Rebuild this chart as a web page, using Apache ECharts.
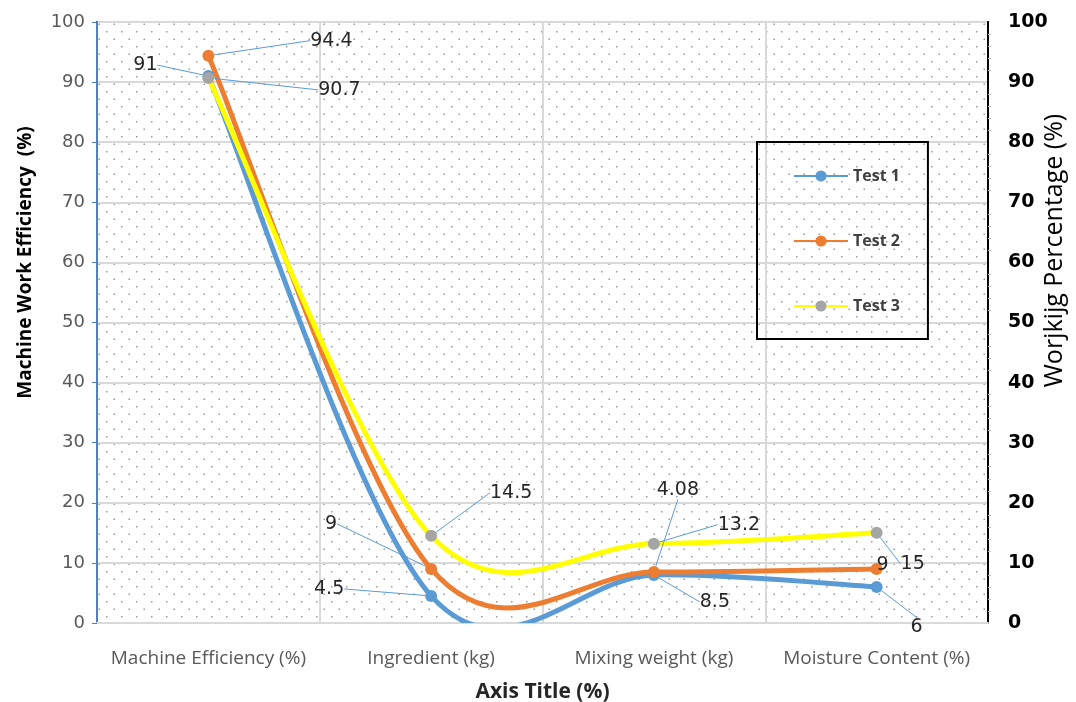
<!DOCTYPE html>
<html>
<head>
<meta charset="utf-8">
<script src="https://cdn.jsdelivr.net/npm/echarts@6/dist/echarts.min.js"></script>
<style>
  html, body { margin: 0; padding: 0; background: #fff; }
  #chart { width: 1076px; height: 702px; }
</style>
</head>
<body>
<div id="chart"></div>
<script>
// data
var categories = ['Machine Efficiency (%)', 'Ingredient (kg)', 'Mixing weight (kg)', 'Moisture Content (%)'];
var test1 = [91, 4.5, 8, 6];
var test2 = [94.4, 9, 8.5, 9];
var test3 = [90.7, 14.5, 13.2, 15];
// the labels as printed on the chart (they do not all match the points)
var test1Labels = ['91', '4.5', '8.5', '6'];
var test2Labels = ['94.4', '9', '4.08', '9'];
var test3Labels = ['90.7', '14.5', '13.2', '15'];
var yTicks = [0, 10, 20, 30, 40, 50, 60, 70, 80, 90, 100];

// where each label sits relative to its point (px)
var labelShift = [
    [[-63, -11], [-102, -7], [61, 27], [40, 40]],
    [[123, -15], [-100, -45], [24, -82], [6, -4]],
    [[131, 12], [80, -43], [85, -19], [36, 31]]
];

// dotted plot background
var dots = document.createElement('canvas');
dots.width = 15;
dots.height = 15;
var dctx = dots.getContext('2d');
dctx.fillStyle = '#9a9a9a';
dctx.fillRect(1, 1, 1.5, 1.5);
dctx.fillRect(8.5, 8.5, 1.5, 1.5);

var myChart = echarts.init(document.getElementById('chart'));

// points + labels (the line itself is drawn by the curve series below)
function makeSeries(name, values, texts, lineColor, dotColor) {
    return {
        name: name,
        type: 'line',
        data: values,
        z: 3,
        symbol: 'circle',
        symbolSize: 12,
        lineStyle: { color: lineColor, width: 5, opacity: 0 },
        itemStyle: { color: dotColor, borderWidth: 0 },
        label: {
            show: true,
            position: 'inside',
            color: '#262626',
            fontFamily: 'DejaVu Sans',
            fontSize: 19,
            formatter: function (p) { return texts[p.dataIndex]; }
        },
        labelLine: {
            show: true,
            lineStyle: { color: '#5b9bd5', width: 1 }
        },
        emphasis: { disabled: true }
    };
}

// excel-like smoothed line (catmull-rom through the points)
function curveSeries(name, values, color) {
    return {
        name: name,
        type: 'custom',
        data: values.map(function (v, i) { return [i, v]; }),
        encode: { x: 0, y: 1 },
        clip: true,
        silent: true,
        z: 1,
        renderItem: function (params, api) {
            if (params.dataIndex !== 0) return null;
            var pts = values.map(function (v, i) { return api.coord([i, v]); });
            var n = pts.length;
            var kids = [];
            for (var i = 0; i < n - 1; i++) {
                var p0 = pts[Math.max(i - 1, 0)], p1 = pts[i], p2 = pts[i + 1], p3 = pts[Math.min(i + 2, n - 1)];
                kids.push({
                    type: 'bezierCurve',
                    shape: {
                        x1: p1[0], y1: p1[1],
                        cpx1: p1[0] + (p2[0] - p0[0]) / 6, cpy1: p1[1] + (p2[1] - p0[1]) / 6,
                        cpx2: p2[0] - (p3[0] - p1[0]) / 6, cpy2: p2[1] - (p3[1] - p1[1]) / 6,
                        x2: p2[0], y2: p2[1]
                    },
                    style: { fill: null, stroke: color, lineWidth: 5, lineCap: 'round' }
                });
            }
            return { type: 'group', children: kids };
        }
    };
}

var option = {
    animation: false,
    grid: {
        left: 97, right: 88, top: 22, bottom: 79,
        outerBoundsMode: 'none',
        containLabel: false,
        show: true,
        backgroundColor: { image: dots, repeat: 'repeat' },
        borderColor: '#000',
        borderWidth: 2
    },
    legend: {
        orient: 'vertical',
        left: 757,
        top: 142,
        padding: [26, 28, 25, 36],
        itemGap: 49,
        itemWidth: 54,
        itemHeight: 14,
        borderColor: '#000',
        borderWidth: 2,
        lineStyle: { opacity: 1 },
        textStyle: { fontFamily: 'Open Sans', fontWeight: 'bold', fontSize: 16, color: '#404040' },
        data: ['Test 1', 'Test 2', 'Test 3']
    },
    xAxis: {
        type: 'category',
        data: categories,
        boundaryGap: true,
        axisLine: { lineStyle: { color: '#d9d9d9', width: 2 } },
        axisTick: { show: false },
        axisLabel: { interval: 0, color: '#595959', fontFamily: 'Open Sans', fontSize: 19, margin: 26 },
        splitLine: { show: true, interval: 0, lineStyle: { color: '#d9d9d9', width: 2 } },
        name: 'Axis Title (%)',
        nameLocation: 'middle',
        nameGap: 59,
        nameTextStyle: { fontFamily: 'Open Sans', fontWeight: 'bold', fontSize: 21, color: '#262626' }
    },
    yAxis: [
        {
            type: 'value',
            min: yTicks[0],
            max: yTicks[yTicks.length - 1],
            interval: 10,
            axisLine: { show: true, lineStyle: { color: '#4f81bd', width: 2 } },
            axisTick: { show: true, length: 5, lineStyle: { color: '#4f81bd' } },
            axisLabel: { color: '#595959', fontFamily: 'DejaVu Sans', fontSize: 18, margin: 12 },
            splitLine: { lineStyle: { color: '#d9d9d9', width: 2 } },
            name: 'Machine Work Efficiency  (%)',
            nameLocation: 'middle',
            nameGap: 62,
            nameTextStyle: {
                fontFamily: 'Open Sans', fontWeight: 'bold', fontSize: 19, color: '#000',
                padding: [0, 0, 0, 120]
            }
        },
        {
            type: 'value',
            position: 'right',
            min: yTicks[0],
            max: yTicks[yTicks.length - 1],
            interval: 10,
            axisLine: { show: true, lineStyle: { color: '#000', width: 2 } },
            axisTick: { show: false },
            minorTick: { show: true, splitNumber: 5, length: 3, lineStyle: { color: '#bfbfbf' } },
            axisLabel: { color: '#000', fontFamily: 'DejaVu Sans', fontWeight: 'bold', fontSize: 19, margin: 20 },
            splitLine: { show: false },
            name: 'Worjkijg Percentage (%)',
            nameLocation: 'middle',
            nameRotate: 90,
            nameGap: 54,
            nameMoveOverlap: false,
            nameTextStyle: {
                fontFamily: 'Open Sans', fontSize: 25, color: '#000',
                padding: [0, 0, 0, 144]
            }
        }
    ],
    labelLayout: function (params) {
        var s = labelShift[params.seriesIndex - 3];
        if (!s) return;
        s = s[params.dataIndex];
        return { dx: s[0], dy: s[1] };
    },
    series: [
        curveSeries('curve 1', test1, '#5b9bd5'),
        curveSeries('curve 2', test2, '#ed7d31'),
        curveSeries('curve 3', test3, '#ffff00'),
        makeSeries('Test 1', test1, test1Labels, '#5b9bd5', '#5b9bd5'),
        makeSeries('Test 2', test2, test2Labels, '#ed7d31', '#ed7d31'),
        makeSeries('Test 3', test3, test3Labels, '#ffff00', '#a5a5a5')
    ]
};

myChart.setOption(option);
</script>
</body>
</html>
